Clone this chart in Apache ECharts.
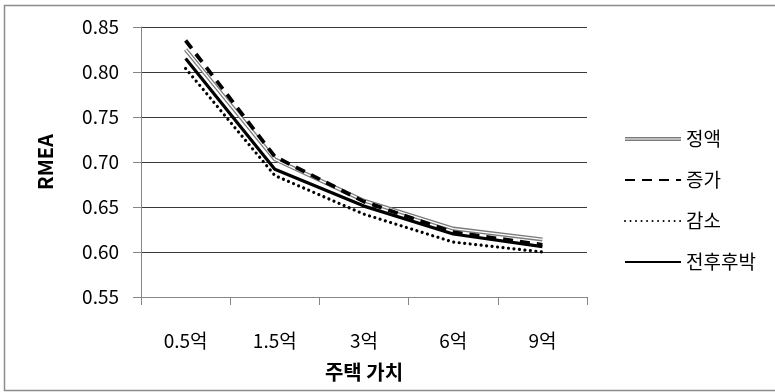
<!DOCTYPE html>
<html>
<head>
<meta charset="utf-8">
<script src="https://cdn.jsdelivr.net/npm/echarts@6/dist/echarts.min.js"></script>
<style>
html,body{margin:0;padding:0;background:#fff;}
#chart{width:775px;height:392px;}
</style>
</head>
<body>
<div id="chart"></div>
<script>
var categories = ['0.5억', '1.5억', '3억', '6억', '9억'];
var seriesNames = ['정액', '증가', '감소', '전후후박'];
var flat = [0.825, 0.703, 0.657, 0.626, 0.614];
var increasing = [0.835, 0.706, 0.656, 0.622, 0.608];
var decreasing = [0.804, 0.685, 0.642, 0.611, 0.600];
var frontLoaded = [0.815, 0.692, 0.651, 0.620, 0.606];
var yTicks = [0.55, 0.60, 0.65, 0.70, 0.75, 0.80, 0.85];

var FONT = '"Noto Sans CJK KR", "Noto Sans", sans-serif';
var chart = echarts.init(document.getElementById('chart'));
chart.setOption({
  animation: false,
  backgroundColor: '#fff',
  textStyle: {fontFamily: FONT},
  graphic: [{
    type: 'rect', silent: true, z: -10,
    shape: {x: 4.5, y: 5.5, width: 800, height: 385},
    style: {fill: 'none', stroke: '#8c8c8c', lineWidth: 1.5}
  }],
  grid: {left: 141, right: 188, top: 27, bottom: 95},
  legend: {
    orient: 'vertical',
    left: 619, top: 123,
    itemWidth: 56, itemHeight: 4,
    itemGap: 19,
    itemStyle: {opacity: 0},
    data: [
      {name: seriesNames[0], icon: 'path://M0,0H56V1.4H0Z M0,2.6H56V4H0Z', itemStyle: {opacity: 1, color: '#7a7a7a'}},
      {name: seriesNames[1]}, {name: seriesNames[2]}, {name: seriesNames[3]}
    ],
    textStyle: {fontSize: 19, color: '#000', fontFamily: FONT, lineHeight: 22},
    selectedMode: false
  },
  xAxis: {
    type: 'category',
    data: categories,
    boundaryGap: true,
    name: '주택 가치',
    nameLocation: 'middle',
    nameGap: 65,
    nameTextStyle: {fontSize: 20, fontWeight: 'bold', color: '#000', fontFamily: FONT},
    axisLine: {lineStyle: {color: '#868686', width: 1}},
    axisTick: {show: true, length: 8, inside: false, lineStyle: {color: '#868686'}},
    axisLabel: {fontSize: 19, color: '#000', margin: 34, fontFamily: FONT}
  },
  yAxis: {
    type: 'value',
    min: yTicks[0], max: yTicks[yTicks.length - 1], interval: 0.05,
    name: 'RMEA',
    nameLocation: 'middle',
    nameRotate: 90,
    nameGap: 86,
    nameTextStyle: {fontSize: 20, fontWeight: 'bold', color: '#000', fontFamily: FONT},
    axisLine: {show: true, lineStyle: {color: '#868686', width: 1}},
    axisTick: {show: true, length: 8, inside: false, lineStyle: {color: '#868686'}},
    axisLabel: {fontSize: 19, color: '#000', margin: 22, fontFamily: FONT,
      formatter: function (v) { return v.toFixed(2); }},
    splitLine: {show: true, lineStyle: {color: '#3a3a3a', width: 1}}
  },
  series: [
    {name: seriesNames[0], type: 'line', data: flat, symbol: 'none', color: '#7a7a7a',
     lineStyle: {color: '#7a7a7a', width: 4}, z: 2},
    {name: '정액_inner', type: 'line', data: flat, symbol: 'none', color: '#ffffff',
     lineStyle: {color: '#ffffff', width: 1.4}, z: 3, legendHoverLink: false},
    {name: seriesNames[1], type: 'line', data: increasing, symbol: 'none', color: '#000',
     lineStyle: {color: '#000', width: 3.8, type: [10, 7]}, z: 4},
    {name: seriesNames[2], type: 'line', data: decreasing, symbol: 'none', color: '#000',
     lineStyle: {color: '#000', width: 3.2, type: [0.01, 5.5], cap: 'round'}, z: 5},
    {name: seriesNames[3], type: 'line', data: frontLoaded, symbol: 'none', color: '#000',
     lineStyle: {color: '#000', width: 3.2}, z: 6}
  ]
});
</script>
</body>
</html>
